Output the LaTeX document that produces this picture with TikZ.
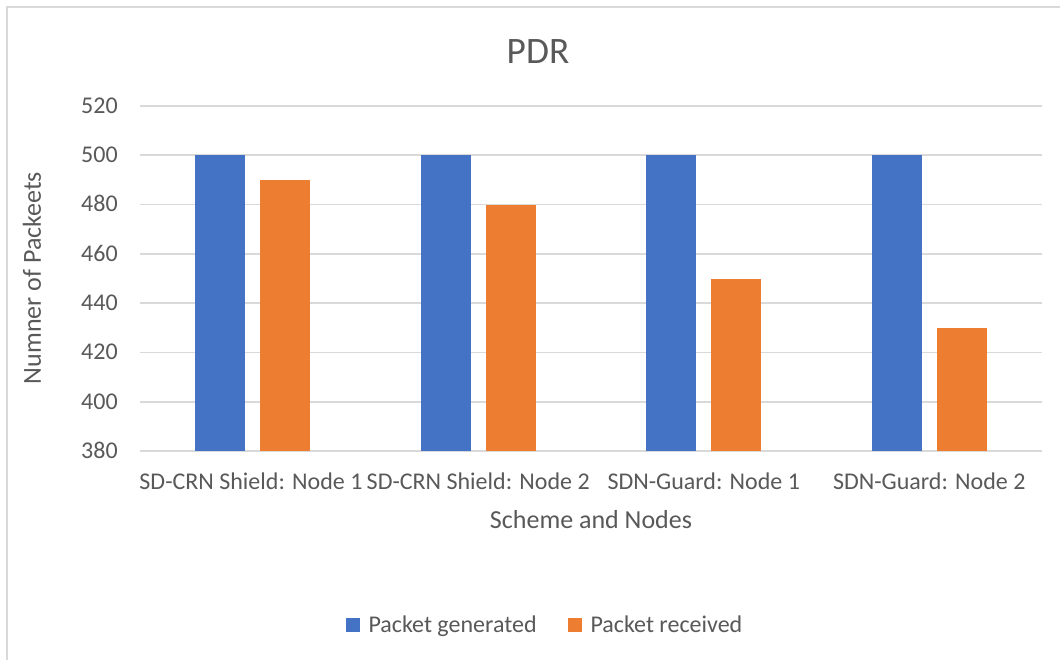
\documentclass[tikz,border=0pt]{standalone}
\usepackage{fontspec}
\setmainfont{Carlito}
\usetikzlibrary{positioning}

\definecolor{genblue}{HTML}{4472C4}
\definecolor{recorange}{HTML}{ED7D31}
\definecolor{gridgray}{HTML}{D9D9D9}
\definecolor{framegray}{HTML}{D9D9D9}
\definecolor{txtgray}{HTML}{595959}

\tikzset{
  gridline/.style={gridgray, line width=1.3},
  ticklabel/.style={text=txtgray, font=\fontsize{18}{20}\selectfont, inner sep=0pt,
    text height=12pt, text depth=1pt},
  axistitle/.style={text=txtgray, font=\fontsize{19.5}{22}\selectfont, inner sep=0pt},
  legendkey/.style={minimum size=10.5pt, inner sep=0pt},
}

\begin{document}
\begin{tikzpicture}[x=0.75pt, y=-0.75pt]
	\useasboundingbox (0, 0) rectangle (1060, 660);
	\fill[white] (0, 0) rectangle (1060, 660);
	% chart frame
	\draw[framegray, line width=1.5] (7, 660) -- (7, 7) -- (1060, 7);
	% title
	\node[text=txtgray, font=\fontsize{28}{30}\selectfont, inner sep=0pt] (title) at (538, 52) {PDR};
	% grid and value axis
	\foreach \v in {380, 400, ..., 520} {
		\pgfmathsetmacro{\yy}{451 - (\v - 380) * 2.4643}
		\draw[gridline] (140, \yy) -- (1042, \yy);
		\node[ticklabel, anchor=east] (t\v) at (118, \yy) {\v};
	}
	% bars
	\foreach \cx/\gen/\rec [count=\i] in {252.75/500/490, 478.25/500/480, 703.75/500/450, 929.25/500/430} {
		\pgfmathsetmacro{\yg}{451 - (\gen - 380) * 2.4643}
		\pgfmathsetmacro{\yr}{451 - (\rec - 380) * 2.4643}
		\fill[genblue] (\cx - 57.5, 451) rectangle (\cx - 7.5, \yg);
		\fill[recorange] (\cx + 7.5, 451) rectangle (\cx + 57.5, \yr);
	}
	% category labels
	\node[ticklabel] (c1) at (251, 482) {SD-CRN Shield: Node 1};
	\node[ticklabel] (c2) at (478.25, 482) {SD-CRN Shield: Node 2};
	\node[ticklabel] (c3) at (703.75, 482) {SDN-Guard: Node 1};
	\node[ticklabel] (c4) at (929.25, 482) {SDN-Guard: Node 2};
	% axis titles
	\node[axistitle] (xtitle) at (591, 520) {Scheme and Nodes};
	\node[axistitle, rotate=90] (ytitle) at (32, 278) {Numner of Packeets};
	% legend
	\node[legendkey, fill=genblue] (kgen) at (353, 625) {};
	\node[ticklabel, right=6pt of kgen] (lgen) {Packet generated};
	\node[legendkey, fill=recorange] (krec) at (575, 625) {};
	\node[ticklabel, right=6pt of krec] (lrec) {Packet received};
\end{tikzpicture}
\end{document}
